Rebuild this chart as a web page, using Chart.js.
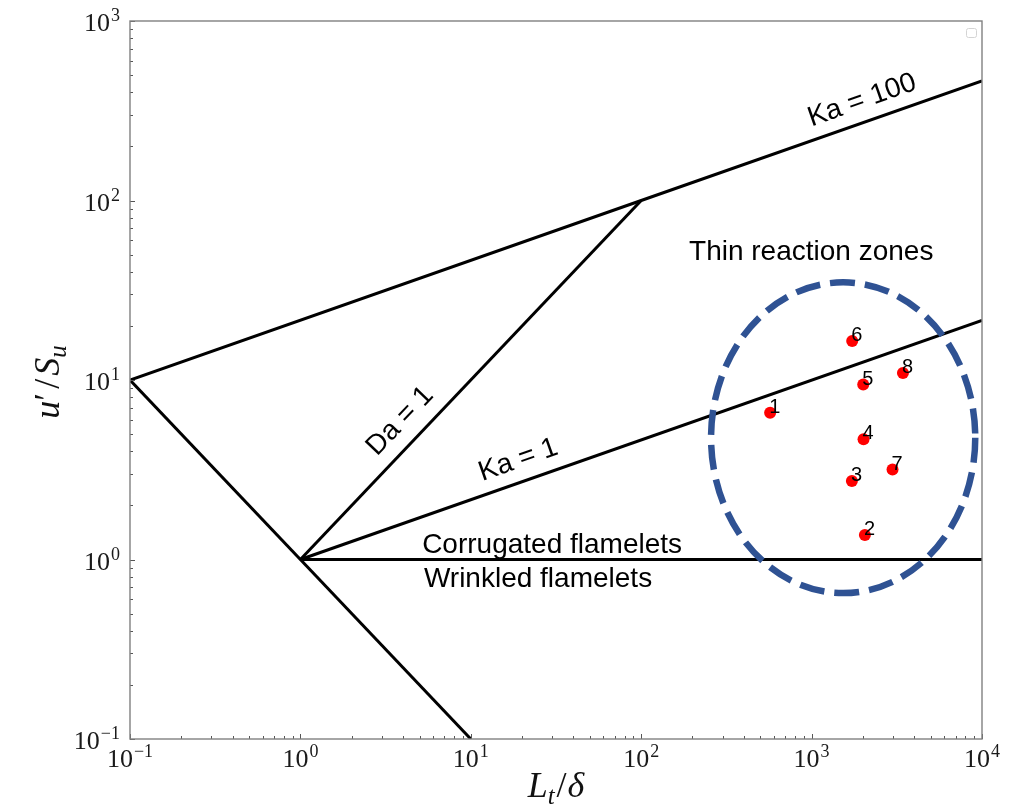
<!DOCTYPE html>
<html>
<head>
<meta charset="utf-8">
<script src="https://cdn.jsdelivr.net/npm/chart.js@4.4.1/dist/chart.umd.min.js"></script>
<style>
  html, body { margin: 0; padding: 0; background: #fff; }
  canvas { display: block; }
</style>
</head>
<body>
<canvas id="regime" width="1020" height="805"></canvas>
<script>
// regime boundaries (L_t/delta, u'/S_u)
const boundaryX = [0.1, 1, 10];
const boundaryY = [10, 1, 0.1];
const kaHundredX = [0.1, 100, 10000];
const kaHundredY = [10, 100, 464];
const daOneX = [1, 100];
const daOneY = [1, 100];
const kaOneX = [1, 10000];
const kaOneY = [1, 21.5];
const flameletX = [1, 10000];
const flameletY = [1, 1];

// measured cases
const caseIds = ['1', '2', '3', '4', '5', '6', '7', '8'];
const caseX = [571, 2055, 1724, 2017, 2009, 1731, 2985, 3436];
const caseY = [6.56, 1.37, 2.74, 4.68, 9.43, 16.5, 3.17, 10.95];

// dashed region around the cases
const regionX = [257, 9130];
const regionY = [0.65, 35];

// axis decades
const xDecades = [-1, 0, 1, 2, 3, 4];
const yDecades = [-1, 0, 1, 2, 3];

const SERIF = '"Liberation Serif", "DejaVu Serif", serif';
const SANS = '"Liberation Sans", Arial, sans-serif';

// regime names, placed in data coordinates; "along" gives the line they follow
const regimeLabels = [
  { text: 'Ka = 100', x: 1980, y: 361, along: [[100, 100], [10000, 464]] },
  { text: 'Da = 1', x: 3.85, y: 5.9, along: [[1, 1], [100, 100]] },
  { text: 'Ka = 1', x: 19.0, y: 3.58, along: [[1, 1], [10000, 21.5]] },
  { text: 'Corrugated flamelets', x: 30.0, y: 1.085, baseline: true },
  { text: 'Wrinkled flamelets', x: 24.8, y: 0.705, baseline: true },
  { text: 'Thin reaction zones', x: 995, y: 46.4, baseline: true }
];

const pairs = (xs, ys) => xs.map((x, i) => ({ x: x, y: ys[i] }));

function powerLabel(ctx, exp, x, y, align) {
  const base = '10';
  const sup = exp < 0 ? '\u2212' + (-exp) : String(exp);
  ctx.font = '26px ' + SERIF;
  const wb = ctx.measureText(base).width;
  ctx.font = '18px ' + SERIF;
  const ws = ctx.measureText(sup).width;
  const left = align === 'right' ? x - wb - ws - 1 : x - (wb + ws + 1) / 2;
  ctx.textAlign = 'left';
  ctx.textBaseline = 'alphabetic';
  ctx.font = '26px ' + SERIF;
  ctx.fillText(base, left, y);
  ctx.font = '18px ' + SERIF;
  ctx.fillText(sup, left + wb + 1, y - 10);
}

function drawRuns(ctx, runs, x, y) {
  let total = 0;
  runs.forEach((r) => {
    ctx.font = r.font;
    r.w = ctx.measureText(r.t).width;
    total += r.w + (r.gap || 0);
  });
  let cx = x - total / 2;
  ctx.textAlign = 'left';
  ctx.textBaseline = 'alphabetic';
  runs.forEach((r) => {
    ctx.font = r.font;
    ctx.fillText(r.t, cx, y + (r.dy || 0));
    cx += r.w + (r.gap || 0);
  });
}

const decorations = {
  id: 'decorations',
  afterDatasetsDraw(chart) {
    const ctx = chart.ctx;
    const area = chart.chartArea;
    const xs = chart.scales.x;
    const ys = chart.scales.y;
    ctx.save();

    // dashed ellipse
    const l = xs.getPixelForValue(regionX[0]);
    const r = xs.getPixelForValue(regionX[1]);
    const t = ys.getPixelForValue(regionY[1]);
    const b = ys.getPixelForValue(regionY[0]);
    ctx.beginPath();
    ctx.ellipse((l + r) / 2, (t + b) / 2, (r - l) / 2, (b - t) / 2, 0, 0, 2 * Math.PI);
    ctx.setLineDash([25, 10]);
    ctx.lineWidth = 6.5;
    ctx.strokeStyle = '#2f5293';
    ctx.stroke();
    ctx.setLineDash([]);

    // case numbers
    ctx.fillStyle = '#000';
    ctx.font = '20px ' + SANS;
    ctx.textAlign = 'left';
    ctx.textBaseline = 'alphabetic';
    caseIds.forEach((id, i) => {
      ctx.fillText(id, xs.getPixelForValue(caseX[i]) - 1, ys.getPixelForValue(caseY[i]));
    });

    // regime names
    ctx.font = '28px ' + SANS;
    regimeLabels.forEach((lab) => {
      const px = xs.getPixelForValue(lab.x);
      const py = ys.getPixelForValue(lab.y);
      let angle = 0;
      if (lab.along) {
        const [p0, p1] = lab.along;
        angle = Math.atan2(
          ys.getPixelForValue(p1[1]) - ys.getPixelForValue(p0[1]),
          xs.getPixelForValue(p1[0]) - xs.getPixelForValue(p0[0])
        );
      }
      ctx.save();
      ctx.translate(px, py);
      ctx.rotate(angle);
      ctx.textAlign = 'center';
      ctx.textBaseline = lab.baseline ? 'alphabetic' : 'middle';
      ctx.fillText(lab.text, 0, 0);
      ctx.restore();
    });

    // inward ticks
    ctx.strokeStyle = '#555';
    ctx.lineWidth = 1;
    ctx.beginPath();
    xDecades.forEach((k) => {
      for (let m = 1; m < 10; m++) {
        const v = m * Math.pow(10, k);
        if (v > xs.max * 1.0001) break;
        const x = Math.round(xs.getPixelForValue(v)) + 0.5;
        const len = m === 1 ? 5 : 3;
        ctx.moveTo(x, area.bottom);
        ctx.lineTo(x, area.bottom - len);
      }
    });
    yDecades.forEach((k) => {
      for (let m = 1; m < 10; m++) {
        const v = m * Math.pow(10, k);
        if (v > ys.max * 1.0001) break;
        const y = Math.round(ys.getPixelForValue(v)) + 0.5;
        const len = m === 1 ? 5 : 3;
        ctx.moveTo(area.left, y);
        ctx.lineTo(area.left + len, y);
      }
    });
    ctx.stroke();

    // frame
    ctx.strokeStyle = '#808080';
    ctx.lineWidth = 1.4;
    ctx.strokeRect(area.left, area.top, area.right - area.left, area.bottom - area.top);

    // empty legend box
    ctx.strokeStyle = '#d4d4d4';
    ctx.lineWidth = 1;
    ctx.beginPath();
    ctx.roundRect(area.right - 15.5, area.top + 7.5, 10, 9, 2);
    ctx.stroke();

    // tick labels
    ctx.fillStyle = '#1a1a1a';
    xDecades.forEach((k) => {
      powerLabel(ctx, k, xs.getPixelForValue(Math.pow(10, k)), area.bottom + 28, 'center');
    });
    yDecades.forEach((k) => {
      powerLabel(ctx, k, area.left - 10, ys.getPixelForValue(Math.pow(10, k)) + 10, 'right');
    });

    // axis titles
    const it = (s) => 'italic ' + s + 'px ' + SERIF;
    const up = (s) => s + 'px ' + SERIF;
    ctx.fillStyle = '#111';
    drawRuns(ctx, [
      { t: 'L', font: it(36) },
      { t: 't', font: it(25), dy: 7, gap: 2 },
      { t: '/', font: up(36), gap: 1 },
      { t: '\u03b4', font: it(36) }
    ], (area.left + area.right) / 2, 797);

    ctx.save();
    ctx.translate(59, (area.top + area.bottom) / 2 + 2);
    ctx.rotate(-Math.PI / 2);
    drawRuns(ctx, [
      { t: 'u', font: it(36) },
      { t: '\u2032', font: up(36), gap: 4 },
      { t: '/', font: up(36), gap: 3 },
      { t: 'S', font: it(36) },
      { t: 'u', font: it(25), dy: 7 }
    ], 0, 0);
    ctx.restore();

    ctx.restore();
  }
};

const lineStyle = {
  showLine: true,
  borderColor: '#000',
  borderWidth: 3,
  borderJoinStyle: 'round',
  pointRadius: 0,
  fill: false
};

new Chart(document.getElementById('regime'), {
  type: 'scatter',
  data: {
    datasets: [
      { ...lineStyle, data: pairs(boundaryX, boundaryY) },
      { ...lineStyle, data: pairs(kaHundredX, kaHundredY) },
      { ...lineStyle, data: pairs(daOneX, daOneY) },
      { ...lineStyle, data: pairs(kaOneX, kaOneY) },
      { ...lineStyle, data: pairs(flameletX, flameletY) },
      {
        data: pairs(caseX, caseY),
        showLine: false,
        pointRadius: 6,
        pointBackgroundColor: '#ff0000',
        pointBorderWidth: 0
      }
    ]
  },
  options: {
    responsive: false,
    animation: false,
    devicePixelRatio: 1,
    layout: { padding: { left: 130, top: 21, right: 38, bottom: 66 } },
    plugins: { legend: { display: false }, tooltip: { enabled: false } },
    scales: {
      x: {
        type: 'logarithmic',
        min: 0.1,
        max: 10000,
        grid: { display: false, drawTicks: false },
        border: { display: false },
        ticks: { display: false }
      },
      y: {
        type: 'logarithmic',
        min: 0.1,
        max: 1000,
        grid: { display: false, drawTicks: false },
        border: { display: false },
        ticks: { display: false }
      }
    }
  },
  plugins: [decorations]
});
</script>
</body>
</html>
